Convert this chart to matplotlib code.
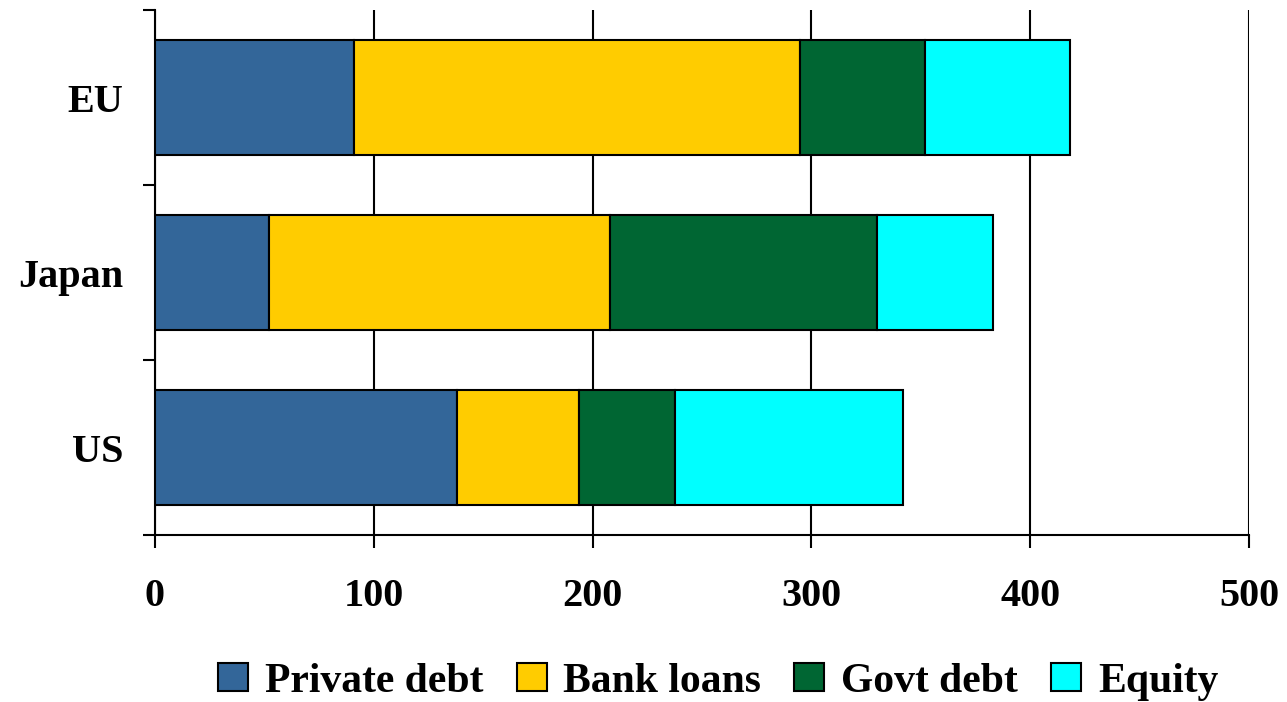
import numpy as np
import matplotlib.pyplot as plt
from matplotlib.patches import Patch

# Financial structure by region (per cent of GDP)
regions = ['US', 'Japan', 'EU']
private_debt = [138, 52, 91]
bank_loans = [56, 156, 204]
govt_debt = [43.5, 122, 57]
equity = [104.5, 53, 66]

series = [private_debt, bank_loans, govt_debt, equity]
names = ['Private debt', 'Bank loans', 'Govt debt', 'Equity']
colors = ['#336699', '#FFCC00', '#006633', '#00FFFF']

plt.rcParams['font.family'] = ['Liberation Serif', 'DejaVu Serif']
plt.rcParams['font.weight'] = 'bold'

fig = plt.figure(figsize=(12.87, 7.02), dpi=100)
ax = fig.add_axes([155/1287, 1-535/702, 1094/1287, 525/702])

y = np.arange(len(regions))
left = np.zeros(len(regions))
for vals, c in zip(series, colors):
    ax.barh(y, vals, left=left, height=0.66, color=c, edgecolor='black',
            linewidth=1.5, zorder=3)
    left += np.array(vals)

ax.set_xlim(0, 500)
ax.set_ylim(-0.5, 2.5)
ax.set_xticks(np.arange(0, 501, 100))
ax.xaxis.grid(True, color='black', linewidth=1.5, zorder=0)

# category boundaries carry the tick marks, names sit between them
ax.set_yticks([-0.5, 0.5, 1.5, 2.5])
ax.set_yticklabels([])
ax.set_yticks(y, minor=True)
ax.set_yticklabels(regions, minor=True, fontsize=29, fontweight='bold')
ax.tick_params(axis='y', which='minor', length=0, pad=23)
ax.tick_params(axis='y', which='major', length=9, width=1.5)
ax.tick_params(axis='x', length=9, width=1.5, pad=22, labelsize=29)
for lab in ax.get_xticklabels():
    lab.set_fontweight('bold')

for s in ['top', 'right']:
    ax.spines[s].set_visible(False)
for s in ['left', 'bottom']:
    ax.spines[s].set_linewidth(1.5)

handles = [Patch(facecolor=c, edgecolor='black', linewidth=1.5) for c in colors]
fig.legend(handles, names, loc='center', bbox_to_anchor=(0.558, 1-682/702),
           ncol=4, frameon=False, prop={'size': 30, 'weight': 'bold'},
           handlelength=0.72, handleheight=0.65, handletextpad=0.4,
           columnspacing=0.8)

plt.savefig('out.png')
